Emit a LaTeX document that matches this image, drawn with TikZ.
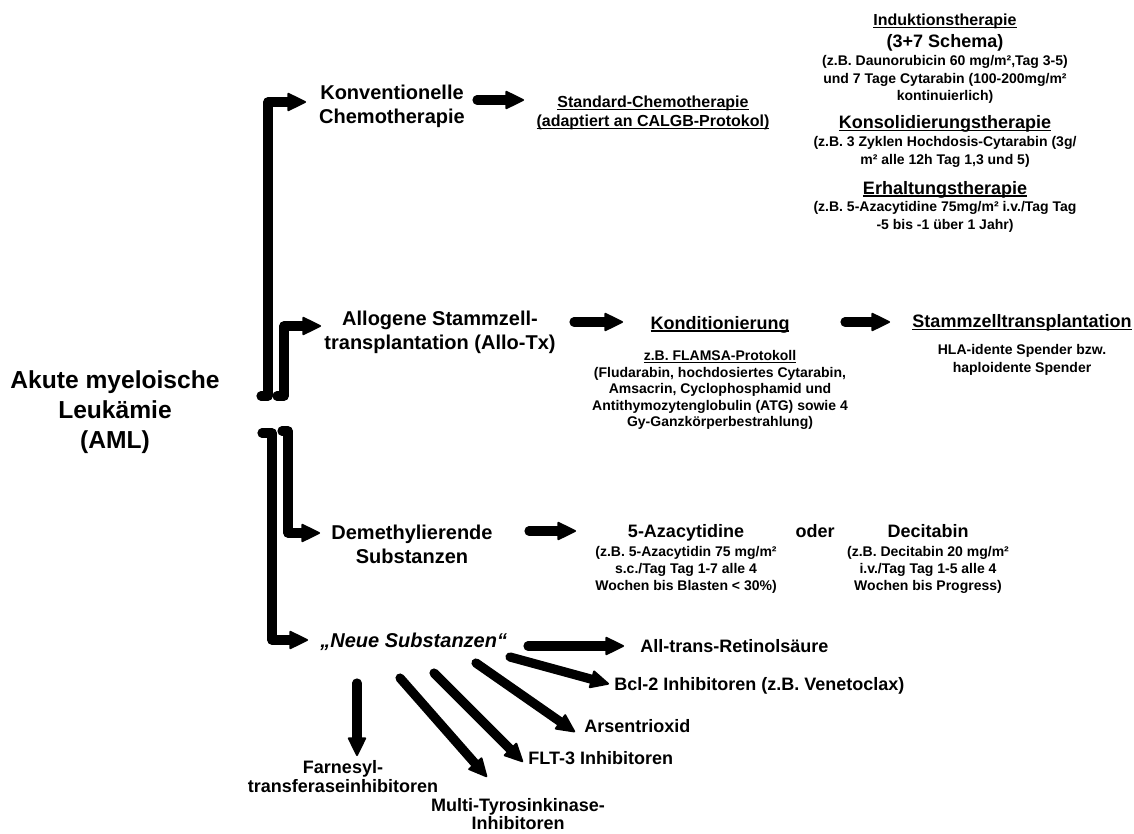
\documentclass[tikz,border=0pt]{standalone}
\usepackage{fontspec}
\setmainfont{Liberation Sans}
\usetikzlibrary{arrows.meta}
\newcommand\myul[1]{\setbox0\hbox{#1}\rlap{\rule[-1.1pt]{\wd0}{0.6pt}}\box0}
\tikzset{
  arr/.style={line width=4.6pt, line cap=round, line join=round,
    -{Triangle[length=10pt,width=9.5pt,round,line width=1pt]}},
  lbl/.style={inner sep=0pt, align=center, font=\bfseries\fontsize{10}{12}\selectfont},
  hd/.style={inner sep=0pt, align=center, font=\bfseries\fontsize{9}{10.8}\selectfont},
  sm/.style={inner sep=0pt, align=center, font=\bfseries\fontsize{7}{8.75}\selectfont},
}
\begin{document}
\begin{tikzpicture}[x=0.5pt,y=-0.5pt]
\useasboundingbox (0,0) rectangle (1134,834);

% main labels
\node[lbl, anchor=north, font=\bfseries\fontsize{12.3}{15}\selectfont] (aml) at (115,370) {Akute myeloische\\Leukämie\\(AML)};
\node[lbl, anchor=north] (konv) at (392,85) {Konventionelle\\Chemotherapie};
\node[lbl, anchor=north] (allo) at (440,311) {Allogene Stammzell-\\transplantation (Allo-Tx)};
\node[lbl, anchor=north] (demeth) at (412,525) {Demethylierende\\Substanzen};
\node[lbl, anchor=base west, font=\bfseries\itshape\fontsize{10}{12}\selectfont] (neue) at (320,647) {„Neue Substanzen“};

% conventional chemotherapy
\node[anchor=north, inner sep=0pt, align=center, font=\bfseries\fontsize{8}{9.5}\selectfont] (std) at (653,96) {\myul{Standard-Chemotherapie}\\\myul{(adaptiert an CALGB-Protokol)}};
\node[hd, anchor=north, font=\bfseries\fontsize{8}{9.6}\selectfont] (ind) at (945,14) {\myul{Induktionstherapie}};
\node[hd, anchor=north] (sch) at (945,34.3) {(3+7 Schema)};
\node[sm, anchor=north] (indt) at (945,55) {(z.B. Daunorubicin 60 mg/m²,Tag 3-5)\\und 7 Tage Cytarabin (100-200mg/m²\\kontinuierlich)};
\node[hd, anchor=north] (kons) at (945,115.3) {\myul{Konsolidierungstherapie}};
\node[sm, anchor=north] (konst) at (945,136) {(z.B. 3 Zyklen Hochdosis-Cytarabin (3g/\\m² alle 12h Tag 1,3 und 5)};
\node[hd, anchor=north] (erh) at (945,181) {\myul{Erhaltungstherapie}};
\node[sm, anchor=north] (erht) at (945,201) {(z.B. 5-Azacytidine 75mg/m² i.v./Tag Tag\\-5 bis -1 über 1 Jahr)};

% allo-tx
\node[hd, anchor=north] (kond) at (720,316) {\myul{Konditionierung}};
\node[sm, anchor=north, font=\bfseries\fontsize{7}{8.25}\selectfont] (kondt) at (720,350) {\myul{z.B. FLAMSA-Protokoll}\\(Fludarabin, hochdosiertes Cytarabin,\\Amsacrin, Cyclophosphamid und\\Antithymozytenglobulin (ATG) sowie 4\\Gy-Ganzkörperbestrahlung)};
\node[hd, anchor=north] (sztx) at (1022,314.3) {\myul{Stammzelltransplantation}};
\node[sm, anchor=north, font=\bfseries\fontsize{7}{9}\selectfont] (hla) at (1022,344) {HLA-idente Spender bzw.\\haploidente Spender};

% demethylating
\node[hd, anchor=north] (aza) at (686,524) {5-Azacytidine};
\node[sm, anchor=north, font=\bfseries\fontsize{7}{8.5}\selectfont] (azat) at (686,546) {(z.B. 5-Azacytidin 75 mg/m²\\s.c./Tag Tag 1-7 alle 4\\Wochen bis Blasten < 30\%)};
\node[hd, anchor=north] (oder) at (815,524) {oder};
\node[hd, anchor=north] (dec) at (928,524) {Decitabin};
\node[sm, anchor=north, font=\bfseries\fontsize{7}{8.5}\selectfont] (dect) at (928,546) {(z.B. Decitabin 20 mg/m²\\i.v./Tag Tag 1-5 alle 4\\Wochen bis Progress)};

% new substances
\node[hd, anchor=base west] (atra) at (640,652) {All-trans-Retinolsäure};
\node[hd, anchor=base west] (bcl) at (614,690) {Bcl-2 Inhibitoren (z.B. Venetoclax)};
\node[hd, anchor=base west] (ato) at (584,732) {Arsentrioxid};
\node[hd, anchor=base west] (flt) at (528,764) {FLT-3 Inhibitoren};
\node[hd, anchor=north, font=\bfseries\fontsize{9}{9}\selectfont] (mtki) at (518,798) {Multi-Tyrosinkinase-\\Inhibitoren};
\node[hd, anchor=north, font=\bfseries\fontsize{9}{9.5}\selectfont] (fti) at (343,760) {Farnesyl-\\transferaseinhibitoren};

% connector end points
\coordinate (b1s) at (261,396); \coordinate (b1e) at (306,102);
\coordinate (b2s) at (277,396); \coordinate (b2e) at (321,326);
\coordinate (b3s) at (282,431); \coordinate (b3e) at (320,533);
\coordinate (b4s) at (262,433); \coordinate (b4e) at (308,640);
\coordinate (a1s) at (477,100); \coordinate (a1e) at (524,100);
\coordinate (a2s) at (574,322); \coordinate (a2e) at (623,322);
\coordinate (a3s) at (845,322); \coordinate (a3e) at (890,322);
\coordinate (a4s) at (529,531); \coordinate (a4e) at (576,531);
\coordinate (n1s) at (528,646); \coordinate (n1e) at (624,646);
\coordinate (n2s) at (510,657); \coordinate (n2e) at (609,684);
\coordinate (n3s) at (476,663); \coordinate (n3e) at (575,732);
\coordinate (n4s) at (434,673); \coordinate (n4e) at (523,762);
\coordinate (n5s) at (400,678); \coordinate (n5e) at (487,777);
\coordinate (n6s) at (357,683); \coordinate (n6e) at (357,756);

% brackets
\draw[arr] (b1s) -- ++(7,0) |- (b1e);
\draw[arr] (b2s) -- ++(7,0) |- (b2e);
\draw[arr] (b3s) -- ++(6,0) |- (b3e);
\draw[arr] (b4s) -- ++(10,0) |- (b4e);

% arrows
\draw[arr] (a1s) -- (a1e);
\draw[arr] (a2s) -- (a2e);
\draw[arr] (a3s) -- (a3e);
\draw[arr] (a4s) -- (a4e);
\draw[arr] (n1s) -- (n1e);
\draw[arr] (n2s) -- (n2e);
\draw[arr] (n3s) -- (n3e);
\draw[arr] (n4s) -- (n4e);
\draw[arr] (n5s) -- (n5e);
\draw[arr] (n6s) -- (n6e);
\end{tikzpicture}
\end{document}
